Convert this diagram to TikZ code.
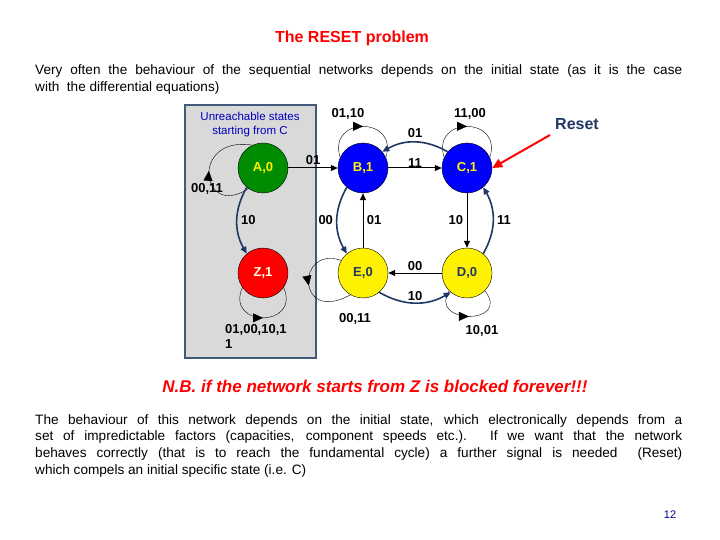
\documentclass[tikz,border=0pt]{standalone}
\usepackage{fontspec}
\setmainfont{Liberation Sans}
\usetikzlibrary{arrows.meta,decorations.markings}
\definecolor{navy}{HTML}{1F3864}
\definecolor{gbox}{HTML}{D9D9D9}
\definecolor{bframe}{HTML}{41597A}
\hyphenpenalty=10000
\begin{document}
\begin{tikzpicture}[x=1pt,y=-1pt,
 st/.style={circle,draw=black,minimum size=50pt,inner sep=0pt,font=\fontsize{13}{15}\selectfont\bfseries},
 lb/.style={font=\fontsize{13}{15}\selectfont\bfseries},
 e/.style={-{Triangle[length=7pt,width=6pt]},line width=1pt},
 ce/.style={-{Triangle[length=7pt,width=6pt]},line width=1.6pt,draw=navy},
 lp/.style={thin,postaction={decorate},decoration={markings,mark=at position 0.5 with {\arrow{Triangle[length=10pt,width=9pt]}}}}]
\useasboundingbox (0,0) rectangle (720,540);
\fill[white] (0,0) rectangle (720,540);
\node[text=red,font=\fontsize{16}{19}\selectfont\bfseries] (t) at (352,38) {The RESET problem};
\node[anchor=north west,text width=647pt,align=justify,inner sep=0pt,font=\fontsize{13.6}{17.5}\selectfont] (p1) at (35,64) {\hyphenpenalty=10000\relax Very often the behaviour of the sequential networks depends on the initial state (as it is the case\linebreak with\ \ the differential equations)};
\draw[bframe,line width=1.5pt,fill=gbox] (185,105) rectangle (316,358);
\node[text=blue!75!black,align=center,font=\fontsize{11.5}{14}\selectfont] (u) at (250,125) {Unreachable states\\starting from C};
\node[st,fill=green!55!black,text=yellow] (A) at (263,168) {A,0};
\node[st,fill=blue,text=yellow] (B) at (363,168) {B,1};
\node[st,fill=blue,text=yellow] (C) at (467,168) {C,1};
\node[st,fill=red,text=white!90!yellow] (Z) at (263,273) {Z,1};
\node[st,fill=yellow,text=navy] (E) at (363,273) {E,0};
\node[st,fill=yellow,text=navy] (D) at (467,273) {D,0};
% self loops
\draw[lp] (A.235) .. controls (200,220) and (190,135) .. (A.115);
\node[lb] (la) at (207,189) {00,11};
\draw[lp] (Z.215) .. controls (225,328) and (301,328) .. (Z.325);
\node[lb,align=left,anchor=north west,inner sep=0pt] (lz) at (225,324) {01,00,10,1\\1};
\draw[lp] (B.155) .. controls (327,116) and (399,116) .. (B.25);
\node[lb] (lbb) at (348,114) {01,10};
\draw[lp] (C.155) .. controls (431,116) and (503,116) .. (C.25);
\node[lb] (lc) at (470,114) {11,00};
\draw[lp] (E.150) .. controls (296,245) and (296,325) .. (E.240);
\node[lb] (le) at (355,319) {00,11};
\draw[lp] (D.225) .. controls (428,325) and (512,325) .. (D.315);
\node[lb] (ld) at (482,331) {10,01};
% edges
\draw[e] (A) -- (B) node[lb,pos=0.5,above] {01};
\draw[e] (B) -- (C) node[lb,pos=0.5,above,yshift=-3pt] {11};
\draw[ce] (C.140) to[bend right=30] node[lb,above,text=black] {01} (B.40);
\draw[e] (C) -- (D) node[lb,pos=0.5,left] {10};
\draw[ce] (D.50) to[bend right=30] node[lb,right,text=black] {11} (C.310);
\draw[e] (D) -- (E) node[lb,pos=0.5,above,yshift=-1pt] {00};
\draw[ce] (E.310) to[bend right=30] node[lb,above,text=black,yshift=-2pt] {10} (D.230);
\draw[e] (E) -- (B) node[lb,pos=0.5,right] {01};
\draw[ce] (B.230) to[bend right=30] node[lb,left,text=black] {00} (E.130);
\draw[ce] (A.230) to[bend right=30] node[lb,right,text=black] {10} (Z.130);
% reset
\node[text=navy,font=\fontsize{16}{19}\selectfont\bfseries] (r) at (577,124) {Reset};
\draw[red,line width=2pt,-{Triangle[length=10pt,width=9pt]}] (550,135) -- (C.east);
\node[text=red,font=\fontsize{17}{20}\selectfont\bfseries\itshape] (nb) at (375,386) {N.B. if the network starts from Z is blocked forever!!!};
\node[anchor=north west,text width=647pt,align=justify,inner sep=0pt,font=\fontsize{13.6}{16.8}\selectfont] (p2) at (35,414) {\hyphenpenalty=10000\relax The behaviour of this network depends on the initial state, which electronically depends from a\linebreak set of impredictable factors (capacities, component speeds etc.). If we want that the network\linebreak behaves correctly (that is to reach the fundamental cycle) a further signal is needed\ \ (Reset)\linebreak which compels an initial specific state (i.e. C)};
\node[text=blue!60!black,font=\fontsize{11}{13}\selectfont] (pg) at (670,515) {12};
\end{tikzpicture}
\end{document}
